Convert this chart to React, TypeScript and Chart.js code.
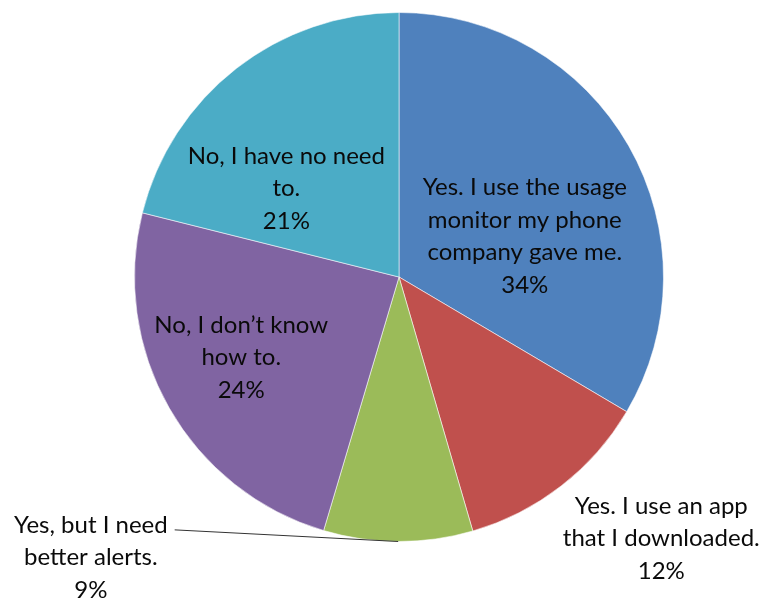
import { useEffect, useRef } from "react";
import { Chart, registerables } from "chart.js";

Chart.register(...registerables);

// ---- data ----
const categoryLines: string[][] = [
  ["Yes. I use the usage", "monitor my phone", "company gave me."],
  ["Yes. I use an app", "that I downloaded."],
  ["Yes, but I need", "better alerts."],
  ["No, I don’t know", "how to."],
  ["No, I have no need", "to."],
];
const values = [33.5, 12.0, 9.1, 24.3, 21.1];
const percentLabels = ["34%", "12%", "9%", "24%", "21%"];

// ---- style ----
const colors = ["#4F81BD", "#C0504D", "#9BBB59", "#8064A2", "#4BACC6"];
// label anchor in polar coordinates relative to the pie: angle in degrees clockwise from 12 o'clock,
// distance as a fraction of the outer radius
const labelAngles = [72, 134.9, 227.7, 242.9, 308.2];
const labelRadii = [0.5, 1.4, 1.575, 0.67, 0.542];
const hasLeader = [false, false, true, false, false];

const FONT = "24px Lato";
const LINE_H = 32.5;

const labelPlugin = {
  id: "pieLabels",
  afterDatasetsDraw(chart: any) {
    const ctx: CanvasRenderingContext2D = chart.ctx;
    const meta = chart.getDatasetMeta(0);
    ctx.save();
    ctx.font = FONT;
    ctx.fillStyle = "#0a0a0a";
    ctx.textAlign = "center";
    ctx.textBaseline = "middle";
    meta.data.forEach((arc: any, i: number) => {
      const { x, y, outerRadius, startAngle, endAngle } = arc.getProps(
        ["x", "y", "outerRadius", "startAngle", "endAngle"],
        true
      );
      const a = ((labelAngles[i] - 90) * Math.PI) / 180;
      const px = x + Math.cos(a) * outerRadius * labelRadii[i];
      const py = y + Math.sin(a) * outerRadius * labelRadii[i];
      const lines = [...categoryLines[i], percentLabels[i]];
      const top = py - ((lines.length - 1) * LINE_H) / 2;
      lines.forEach((t, j) => ctx.fillText(t, px, top + j * LINE_H));
      if (hasLeader[i]) {
        const w = ctx.measureText(lines[0]).width;
        const sx = px + w / 2 + 7;
        const sy = top + 5;
        const mid = (startAngle + endAngle) / 2;
        const ex = x + Math.cos(mid) * outerRadius;
        const ey = y + Math.sin(mid) * outerRadius;
        ctx.beginPath();
        ctx.strokeStyle = "#333333";
        ctx.lineWidth = 1;
        ctx.moveTo(sx, sy);
        ctx.lineTo(ex, ey);
        ctx.stroke();
      }
    });
    ctx.restore();
  },
};

export default function App() {
  const ref = useRef<HTMLCanvasElement | null>(null);
  useEffect(() => {
    if (!ref.current) return;
    const chart = new Chart(ref.current, {
      type: "pie",
      data: {
        labels: categoryLines.map((l) => l.join(" ")),
        datasets: [
          {
            data: values,
            backgroundColor: colors,
            borderColor: "rgba(255,255,255,0.55)",
            borderWidth: 1,
          },
        ],
      },
      options: {
        responsive: false,
        animation: false,
        events: [],
        layout: { padding: { left: 134, right: 104, top: 12, bottom: 61 } },
        plugins: {
          legend: { display: false },
          tooltip: { enabled: false },
        },
      },
      plugins: [labelPlugin],
    });
    return () => chart.destroy();
  }, []);
  return (
    <div style={{ position: "absolute", left: 0, top: 0, width: 768, height: 603, background: "#fff" }}>
      <canvas ref={ref} width={768} height={603} style={{ width: 768, height: 603 }} />
    </div>
  );
}
